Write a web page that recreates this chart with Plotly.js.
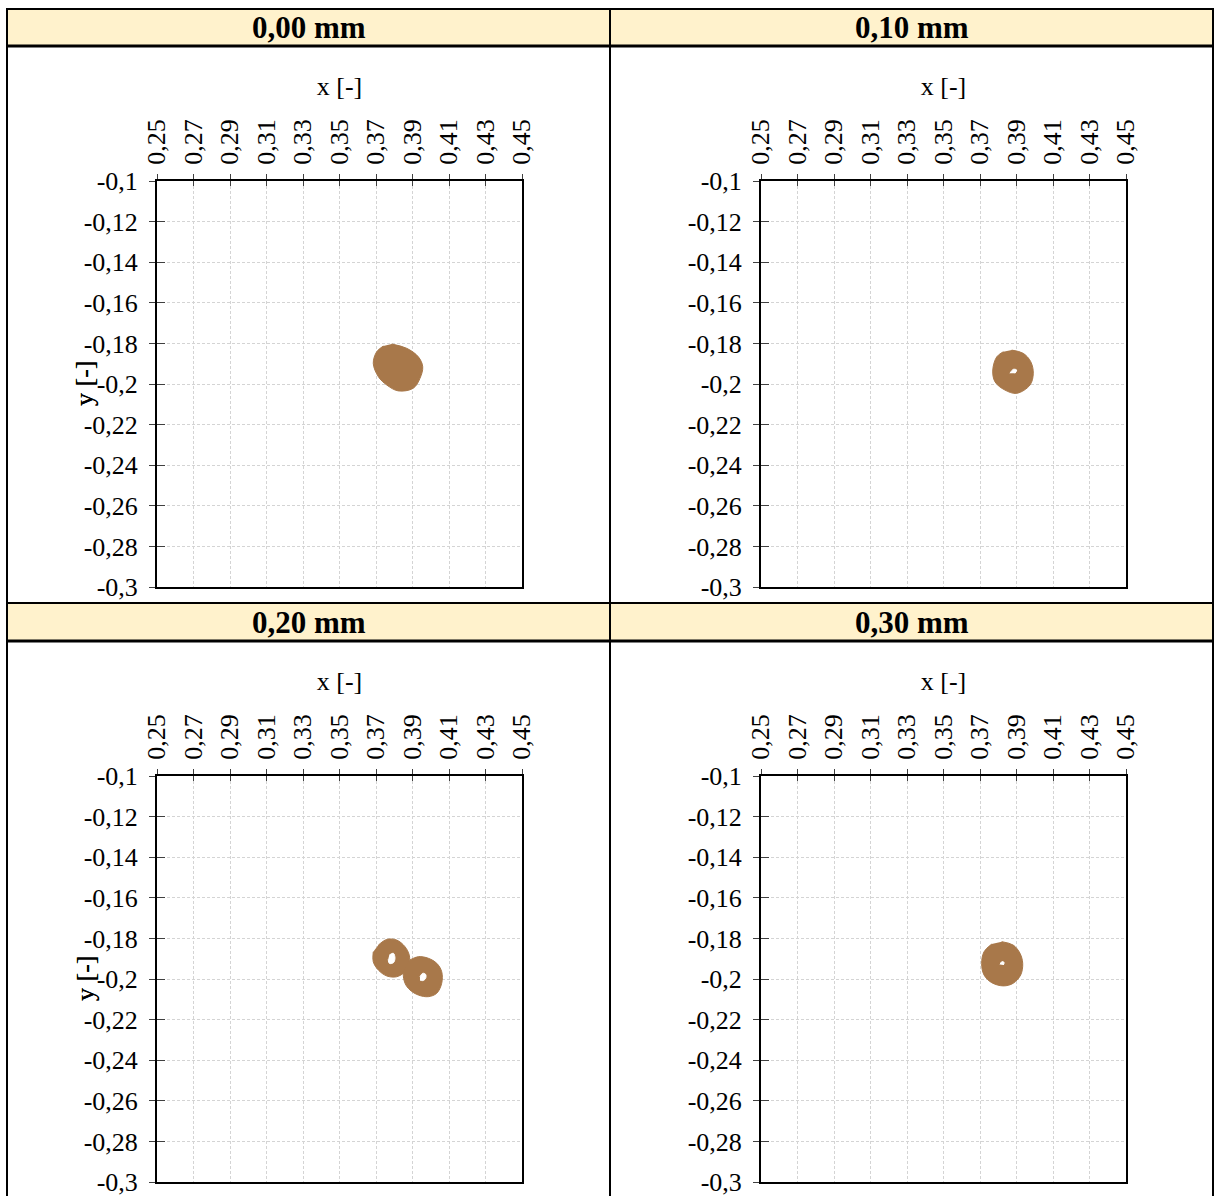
<!DOCTYPE html>
<html>
<head>
<meta charset="utf-8">
<script src="https://cdn.plot.ly/plotly-3.0.1.min.js"></script>
<style>html,body{margin:0;padding:0;background:#fff;}#chart{width:1220px;height:1196px;}</style>
</head>
<body>
<div id="chart"></div>
<script>
// ---------- data ----------
const panelTitles = ['0,00 mm', '0,10 mm', '0,20 mm', '0,30 mm'];
const xTickVals = [0.25, 0.27, 0.29, 0.31, 0.33, 0.35, 0.37, 0.39, 0.41, 0.43, 0.45];
const xTickText = ['0,25', '0,27', '0,29', '0,31', '0,33', '0,35', '0,37', '0,39', '0,41', '0,43', '0,45'];
const yTickVals = [-0.1, -0.12, -0.14, -0.16, -0.18, -0.2, -0.22, -0.24, -0.26, -0.28, -0.3];
const yTickText = ['-0,1', '-0,12', '-0,14', '-0,16', '-0,18', '-0,2', '-0,22', '-0,24', '-0,26', '-0,28', '-0,3'];

// 0,00 mm : orbit envelope (filled)
const p1OuterX = [0.3786, 0.3868, 0.3932, 0.3956, 0.3941, 0.3904, 0.3822, 0.3759, 0.3713, 0.3685, 0.3704, 0.3740];
const p1OuterY = [-0.1803, -0.1824, -0.1866, -0.1915, -0.1972, -0.2021, -0.2034, -0.2005, -0.1964, -0.1898, -0.1841, -0.1813];

// 0,10 mm
const p2OuterX = [0.3874, 0.3937, 0.3978, 0.3992, 0.3974, 0.3901, 0.3837, 0.3782, 0.3770, 0.3792, 0.3828];
const p2OuterY = [-0.1833, -0.1849, -0.1890, -0.1947, -0.2005, -0.2046, -0.2030, -0.1989, -0.1931, -0.1866, -0.1841];
const p2HoleX = [0.3864, 0.3882, 0.3901, 0.3892];
const p2HoleY = [-0.1947, -0.1928, -0.1931, -0.1947];

// 0,20 mm (two orbits)
const p3aOuterX = [0.3713, 0.3759, 0.3813, 0.3859, 0.3882, 0.3882, 0.3859, 0.3813, 0.3759, 0.3713, 0.3685, 0.3685];
const p3aOuterY = [-0.1833, -0.1805, -0.1808, -0.1841, -0.1882, -0.1923, -0.1964, -0.1989, -0.1985, -0.1956, -0.1915, -0.1866];
const p3aHoleX = [0.3773, 0.3795, 0.3804, 0.3795, 0.3773, 0.3767];
const p3aHoleY = [-0.1882, -0.1873, -0.1898, -0.1920, -0.1923, -0.1903];
const p3bOuterX = [0.3886, 0.3932, 0.3987, 0.4033, 0.4060, 0.4060, 0.4033, 0.3987, 0.3932, 0.3886, 0.3859, 0.3850, 0.3868];
const p3bOuterY = [-0.1906, -0.1890, -0.1898, -0.1923, -0.1964, -0.2021, -0.2070, -0.2087, -0.2079, -0.2054, -0.2021, -0.1972, -0.1931];
const p3bHoleX = [0.3941, 0.3956, 0.3972, 0.3972, 0.3956, 0.3941];
const p3bHoleY = [-0.1989, -0.1972, -0.1977, -0.1997, -0.2008, -0.2005];

// 0,30 mm
const p4OuterX = [0.3819, 0.3882, 0.3919, 0.3934, 0.3923, 0.3882, 0.3828, 0.3764, 0.3722, 0.3709, 0.3722, 0.3764];
const p4OuterY = [-0.1816, -0.1833, -0.1873, -0.1923, -0.1980, -0.2021, -0.2034, -0.2018, -0.1980, -0.1923, -0.1866, -0.1828];
const p4HoleX = [0.3810, 0.3819, 0.3832, 0.3828];
const p4HoleY = [-0.1928, -0.1915, -0.1918, -0.1931];

// ---------- layout helpers ----------
const W = 1220, H = 1196;
const FONT = 'Liberation Serif, Times New Roman, serif';
const BLOB = '#A8784A';
const TICK_SIZE = 26;
const px = p => p / W;
const py = p => 1 - p / H;

const plots = [
  {x0: 157, x1: 522, y0: 181, y1: 587},
  {x0: 761, x1: 1126, y0: 181, y1: 587},
  {x0: 157, x1: 522, y0: 776, y1: 1182},
  {x0: 761, x1: 1126, y0: 776, y1: 1182}
];

const blobs = [
  [{x: p1OuterX, y: p1OuterY, hole: false}],
  [{x: p2OuterX, y: p2OuterY, hole: false}, {x: p2HoleX, y: p2HoleY, hole: true}],
  [{x: p3aOuterX, y: p3aOuterY, hole: false}, {x: p3bOuterX, y: p3bOuterY, hole: false},
   {x: p3aHoleX, y: p3aHoleY, hole: true}, {x: p3bHoleX, y: p3bHoleY, hole: true}],
  [{x: p4OuterX, y: p4OuterY, hole: false}, {x: p4HoleX, y: p4HoleY, hole: true}]
];

const traces = [];
const layout = {
  width: W, height: H,
  margin: {l: 0, r: 0, t: 0, b: 0},
  paper_bgcolor: '#ffffff', plot_bgcolor: '#ffffff',
  showlegend: false,
  separators: ', ',
  font: {family: FONT, size: TICK_SIZE, color: '#000'},
  shapes: [], annotations: []
};

plots.forEach((p, i) => {
  const n = i + 1, o = i + 5;
  const xa = 'xaxis' + (n === 1 ? '' : n), ya = 'yaxis' + (n === 1 ? '' : n);
  const xr = n === 1 ? 'x' : 'x' + n, yr = n === 1 ? 'y' : 'y' + n;
  layout[xa] = {
    domain: [px(p.x0), px(p.x1)], anchor: yr, side: 'top',
    range: [0.25, 0.45], tickmode: 'array', tickvals: xTickVals, ticktext: xTickText,
    tickangle: -90, ticks: 'outside', ticklen: 5, tickwidth: 1, tickcolor: '#404040',
    ticklabelstandoff: 4, ticklabeloverflow: 'allow',
    showline: true, linewidth: 2, linecolor: '#000', mirror: true,
    showgrid: true, gridcolor: '#d4d4d4', gridwidth: 1, griddash: '3px,2px',
    zeroline: false, automargin: false, fixedrange: true,
    tickfont: {family: FONT, size: TICK_SIZE, color: '#000'},
    title: {text: 'x [-]', font: {family: FONT, size: TICK_SIZE, color: '#000'}, standoff: 16}
  };
  layout[ya] = {
    domain: [py(p.y1), py(p.y0)], anchor: xr,
    range: [-0.3, -0.1], tickmode: 'array', tickvals: yTickVals, ticktext: yTickText,
    ticks: 'outside', ticklen: 6, tickwidth: 1, tickcolor: '#404040',
    ticklabelstandoff: 6, ticklabeloverflow: 'allow',
    showline: true, linewidth: 2, linecolor: '#000', mirror: true,
    showgrid: true, gridcolor: '#d4d4d4', gridwidth: 1, griddash: '3px,2px',
    zeroline: false, automargin: false, fixedrange: true,
    tickfont: {family: FONT, size: TICK_SIZE, color: '#000'}
  };
  // overlay axes giving the inner half of the crossing tick marks
  layout['xaxis' + o] = {
    overlaying: xr, anchor: yr, side: 'top', range: [0.25, 0.45],
    tickmode: 'array', tickvals: xTickVals, ticks: 'inside', ticklen: 5, tickwidth: 1, tickcolor: '#404040',
    showticklabels: false, showgrid: false, showline: false, zeroline: false, fixedrange: true
  };
  layout['yaxis' + o] = {
    overlaying: yr, anchor: xr, range: [-0.3, -0.1],
    tickmode: 'array', tickvals: yTickVals, ticks: 'inside', ticklen: 8, tickwidth: 1, tickcolor: '#404040',
    showticklabels: false, showgrid: false, showline: false, zeroline: false, fixedrange: true
  };
  traces.push({x: [], y: [], xaxis: 'x' + o, yaxis: 'y' + o, type: 'scatter', mode: 'markers', hoverinfo: 'skip'});

  blobs[i].forEach(b => {
    traces.push({
      type: 'scatter', mode: 'lines', x: b.x, y: b.y, xaxis: xr, yaxis: yr,
      fill: 'toself', fillcolor: b.hole ? '#ffffff' : BLOB,
      line: {color: b.hole ? '#ffffff' : BLOB, width: 1, shape: 'spline', smoothing: 1},
      hoverinfo: 'skip'
    });
  });

  // y axis title placed as in the reference (overlapping the tick labels)
  layout.annotations.push({
    xref: 'paper', yref: 'paper', x: px(85), y: py((p.y0 + p.y1) / 2 - 1),
    text: 'y [-]', textangle: -90, showarrow: false, xanchor: 'center', yanchor: 'middle',
    font: {family: FONT, size: TICK_SIZE, color: '#000'}
  });
});

// table headers
const headerRows = [{t: 9, b: 46}, {t: 603, b: 641}];
const cols = [{l: 7, r: 610}, {l: 610, r: 1213}];
panelTitles.forEach((t, i) => {
  const r = headerRows[Math.floor(i / 2)], c = cols[i % 2];
  layout.shapes.push({type: 'rect', xref: 'paper', yref: 'paper',
    x0: px(c.l), x1: px(c.r), y0: py(r.b), y1: py(r.t),
    fillcolor: '#FFF2CC', line: {width: 0}, layer: 'below'});
  layout.annotations.push({xref: 'paper', yref: 'paper', x: px((c.l + c.r) / 2), y: py((r.t + r.b) / 2),
    text: '<b>' + t + '</b>', showarrow: false, xanchor: 'center', yanchor: 'middle',
    font: {family: FONT, size: 31, color: '#000'}});
});
// table grid lines
[[9, 2], [46, 3], [603, 2], [641, 3]].forEach(([y, w]) => {
  layout.shapes.push({type: 'line', xref: 'paper', yref: 'paper', x0: px(6), x1: px(1214), y0: py(y), y1: py(y),
    line: {color: '#000', width: w}});
});
[7, 610, 1213].forEach(x => {
  layout.shapes.push({type: 'line', xref: 'paper', yref: 'paper', x0: px(x), x1: px(x), y0: py(8), y1: 0,
    line: {color: '#000', width: 2}});
});

Plotly.newPlot('chart', traces, layout, {displayModeBar: false, staticPlot: true});
</script>
</body>
</html>
